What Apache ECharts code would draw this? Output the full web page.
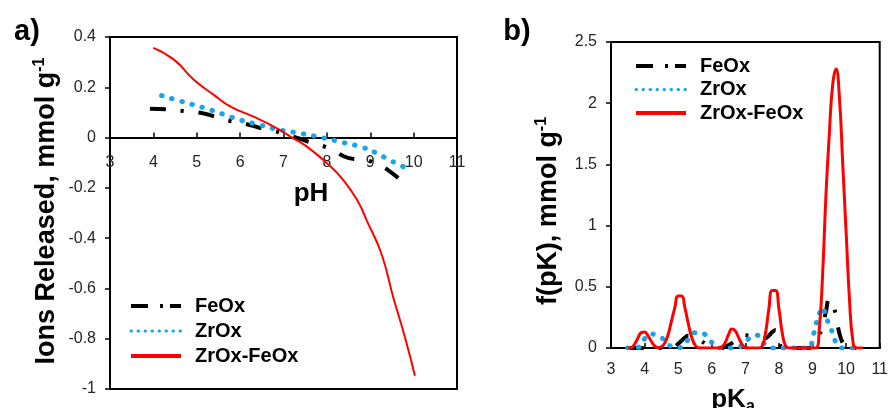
<!DOCTYPE html>
<html><head><meta charset="utf-8">
<script src="https://cdn.jsdelivr.net/npm/echarts@6/dist/echarts.min.js"></script>
<style>html,body{margin:0;padding:0;background:#fff}#c{width:891px;height:408px}</style>
</head><body><div id="c"></div>
<script>
// ---------- Panel a) : Ions released vs pH ----------
const phFeOx   = [3.92, 4.3, 4.71, 5.11, 5.42, 5.8, 6.18, 6.53, 6.92, 7.3, 7.6, 7.98, 8.18, 8.49, 8.91, 9.18, 9.45, 9.7];
const ionsFeOx = [0.115, 0.113, 0.105, 0.098, 0.083, 0.065, 0.052, 0.035, 0.02, 0.0, -0.018, -0.038, -0.054, -0.081, -0.09, -0.107, -0.134, -0.17];
const phZrOx   = [4.19, 4.65, 5.15, 5.61, 6.0, 6.46, 6.92, 7.38, 7.88, 8.38, 8.84, 9.15, 9.44, 9.84];
const ionsZrOx = [0.167, 0.144, 0.119, 0.093, 0.070, 0.050, 0.030, 0.017, 0.0, -0.020, -0.040, -0.062, -0.089, -0.122];
const phMix    = [4.0, 4.48, 4.94, 5.40, 5.78, 6.31, 6.85, 7.16, 7.54, 8.0, 8.38, 8.72, 8.92, 9.26, 9.53, 9.80, 10.03];
const ionsMix  = [0.357, 0.309, 0.229, 0.169, 0.123, 0.083, 0.037, 0.004, -0.036, -0.102, -0.169, -0.255, -0.330, -0.463, -0.635, -0.794, -0.947];

// ---------- Panel b) : f(pK) vs pKa ----------
const pkFeOx = [3.5, 4.8,4.9,5.0,5.1,5.2,5.3,5.4,5.5,5.6,5.7,5.8,5.9,6.0,6.1,
  6.3,6.4,6.5,6.6,6.7,6.8,6.9,7.0,7.1,7.2,7.3,7.4,7.5,7.6,7.7,7.8,7.9,8.0,8.1,8.2,
  8.9,9.0,9.1,9.2,9.3,9.4,9.5,9.6,9.7,9.8,9.9,10.0,10.1, 10.3];
const fFeOx = [0, 0,0.01,0.035,0.06,0.085,0.1,0.095,0.085,0.07,0.055,0.035,0.015,0.003,0,
  0,0.01,0.025,0.04,0.06,0.085,0.1,0.105,0.1,0.09,0.08,0.075,0.075,0.08,0.1,0.13,0.147,0.05,0.005,0,
  0,0.02,0.06,0.11,0.17,0.3,0.4,0.36,0.26,0.12,0.04,0.005,0, 0];
const pkZrOx = [3.5,3.8, 3.9,4.0,4.1,4.2,4.3,4.4,4.5,4.6,4.7,4.8,4.9,5.0,5.1,5.2,5.3,5.4,5.5,5.6,5.7,5.8,5.9,6.0,6.1,6.2,6.3,
  6.8,6.9,7.0,7.1,7.2,7.3,7.4,7.5,7.6,7.7,7.8,
  8.9,9.0,9.1,9.2,9.3,9.4,9.5,9.6,9.7,9.8,9.9, 10.2];
const fZrOx = [0,0.005, 0.03,0.075,0.105,0.115,0.11,0.1,0.085,0.06,0.03,0.012,0.003,0.003,0.01,0.035,0.07,0.105,0.125,0.125,0.12,0.11,0.08,0.045,0.015,0.003,0,
  0.005,0.025,0.05,0.075,0.095,0.105,0.1,0.06,0.025,0.006,0,
  0,0.08,0.19,0.28,0.33,0.25,0.19,0.12,0.045,0.01,0, 0];
const pkMix = [3.5,3.6,3.7,3.8,3.9,4.0,4.1,4.2,4.3,4.4,4.5,4.6,4.7,4.8,4.9,5.0,5.1,5.2,5.3,5.4,5.5,5.6,5.7,
  6.2,6.3,6.4,6.5,6.6,6.7,6.8,6.9,7.0,7.1,
  7.4,7.5,7.6,7.7,7.8,7.9,8.0,8.1,8.2,8.3,
  9.1,9.2,9.3,9.4,9.5,9.6,9.7,9.8,9.9,10.0,10.1,10.2,10.3, 10.5];
const fMix = [0,0.003,0.03,0.08,0.125,0.13,0.1,0.055,0.018,0.003,0.01,0.04,0.11,0.22,0.33,0.425,0.425,0.33,0.2,0.09,0.025,0.002,0,
  0,0.008,0.045,0.11,0.155,0.14,0.085,0.03,0.004,0,
  0,0.015,0.12,0.32,0.47,0.47,0.32,0.12,0.015,0,
  0,0.15,0.6,1.25,1.75,2.15,2.28,2.05,1.5,0.95,0.4,0.06,0, 0];

const xTicks = [3, 11, 1];          // min, max, interval for both x axes
const yTicksA = [-1, 0.4, 0.2];
const yTicksB = [0, 2.5, 0.5];

const zip = (xs, ys) => xs.map((x, i) => [x, ys[i]]);
const FONT = '"Liberation Sans", Arial, sans-serif';
const cRed = '#FF0000', cBlue = '#1AA5E6', cBlack = '#000000', cTxt = '#262626';

const feLine = {color: cBlack, width: 4, type: [16, 15, 3, 15], cap: 'butt'};
const zrLine = {color: cBlue, width: 5, type: [0.5, 10], cap: 'round'};

const gridA = {left: 110, top: 37, width: 347, height: 352};
const gridB = {left: 611, top: 42, width: 272, height: 306};
// panel a) x axis sits on y = 0: shift it up from the grid bottom by the zero position
const zeroShiftA = -gridA.height * (0 - yTicksA[0]) / (yTicksA[1] - yTicksA[0]);

const chart = echarts.init(document.getElementById('c'));

function xAx(g) {
  return {gridIndex: g, type: 'value', min: xTicks[0], max: xTicks[1], interval: xTicks[2],
    position: 'bottom', offset: g === 0 ? zeroShiftA : 0,
    axisLine: {onZero: false, lineStyle: {color: '#000', width: 2}},
    axisTick: {show: true, inside: true, length: 5, lineStyle: {color: '#000', width: 1.5}},
    axisLabel: {margin: g === 0 ? 17 : 14, fontSize: 16, color: cTxt, fontFamily: FONT, showMinLabel: true, showMaxLabel: true},
    splitLine: {show: false}};
}
function yAx(g, t) {
  return {gridIndex: g, type: 'value', min: t[0], max: t[1], interval: t[2],
    axisLine: {show: true, onZero: false, lineStyle: {color: '#000', width: 2}},
    axisTick: {show: true, inside: false, length: 5, lineStyle: {color: '#000', width: 1.5}},
    axisLabel: {margin: 14, fontSize: 16, color: cTxt, fontFamily: FONT},
    splitLine: {show: false}};
}
function legendCfg(left, top, gap) {
  return {left: left, top: top, orient: 'vertical', itemWidth: 50, itemHeight: 14, itemGap: gap,
    selectedMode: false, itemStyle: {opacity: 0},
    textStyle: {fontFamily: FONT, fontWeight: 'bold', fontSize: 20, color: '#000', padding: [0, 0, 0, 9]},
    data: [
      {name: 'FeOx', lineStyle: {color: cBlack, width: 4, type: [17, 12, 3, 7], cap: 'butt'}},
      {name: 'ZrOx', lineStyle: {color: cBlue, width: 3, type: [0.5, 6.5], cap: 'round'}},
      {name: 'ZrOx-FeOx', lineStyle: {color: cRed, width: 4, type: 'solid'}}
    ]};
}
function ser(name, g, data, ls) {
  return {name: name, type: 'line', xAxisIndex: g, yAxisIndex: g, data: data, smooth: true,
    symbol: 'none', lineStyle: ls, itemStyle: {color: ls.color}};
}

const title = (txt, x, y, size) => ({type: 'text', x: x, y: y,
  style: {text: txt, font: 'bold ' + size + 'px ' + FONT, fill: '#000', textAlign: 'center', textVerticalAlign: 'middle'}});

chart.setOption({
  animation: false,
  backgroundColor: '#fff',
  grid: [
    Object.assign({show: true, borderColor: '#000', borderWidth: 2}, gridA),
    Object.assign({show: true, borderColor: '#000', borderWidth: 2}, gridB)
  ],
  xAxis: [xAx(0), xAx(1)],
  yAxis: [yAx(0, yTicksA), yAx(1, yTicksB)],
  legend: [legendCfg(124, 291, 5), legendCfg(629, 51, 3.5)],
  series: [
    ser('FeOx', 0, zip(phFeOx, ionsFeOx), feLine),
    ser('ZrOx', 0, zip(phZrOx, ionsZrOx), zrLine),
    ser('ZrOx-FeOx', 0, zip(phMix, ionsMix), {color: cRed, width: 2}),
    ser('FeOx', 1, zip(pkFeOx, fFeOx), feLine),
    ser('ZrOx', 1, zip(pkZrOx, fZrOx), zrLine),
    ser('ZrOx-FeOx', 1, zip(pkMix, fMix), {color: cRed, width: 3})
  ],
  graphic: [
    title('a)', 27, 32, 29),
    title('b)', 517, 32, 29),
    title('pH', 311, 194, 26),
    {type: 'text', x: 47, y: 211, rotation: Math.PI / 2,
      style: {text: '{m|Ions Released, mmol g}{s|-1}', textAlign: 'center', textVerticalAlign: 'middle', fill: '#000',
        rich: {m: {fontFamily: FONT, fontWeight: 'bold', fontSize: 27, lineHeight: 30, fill: '#000'},
               s: {fontFamily: FONT, fontWeight: 'bold', fontSize: 16, lineHeight: 30, verticalAlign: 'top', fill: '#000'}}}},
    {type: 'text', x: 549, y: 211, rotation: Math.PI / 2,
      style: {text: '{m|f(pK), mmol g}{s|-1}', textAlign: 'center', textVerticalAlign: 'middle', fill: '#000',
        rich: {m: {fontFamily: FONT, fontWeight: 'bold', fontSize: 27, lineHeight: 30, fill: '#000'},
               s: {fontFamily: FONT, fontWeight: 'bold', fontSize: 16, lineHeight: 30, verticalAlign: 'top', fill: '#000'}}}},
    {type: 'text', x: 733, y: 400,
      style: {text: '{m|pK}{s|a}', textAlign: 'center', textVerticalAlign: 'middle', fill: '#000',
        rich: {m: {fontFamily: FONT, fontWeight: 'bold', fontSize: 26, lineHeight: 30, fill: '#000'},
               s: {fontFamily: FONT, fontWeight: 'bold', fontSize: 16, lineHeight: 30, verticalAlign: 'bottom', fill: '#000'}}}}
  ]
});
</script></body></html>
